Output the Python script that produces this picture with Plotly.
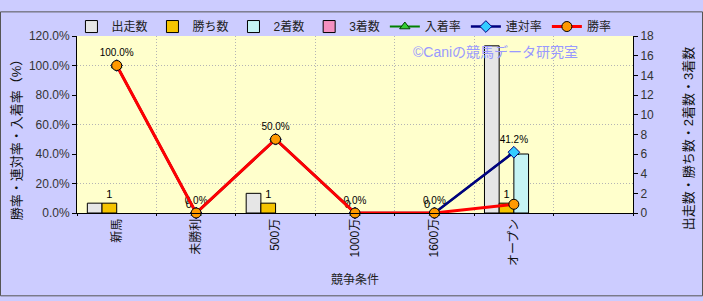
import plotly.graph_objects as go

categories = ["新馬", "未勝利", "500万", "1000万", "1600万", "オープン", " "]
starts = [1, 0, 2, 0, 0, 17, None]
wins = [1, 0, 1, 0, 0, 1, None]
seconds = [0, 0, 0, 0, 0, 6, None]
thirds = [0, 0, 0, 0, 0, 0, None]
place_rate = [100.0, 0.0, 50.0, 0.0, 0.0, 41.2, None]
rentai_rate = [100.0, 0.0, 50.0, 0.0, 0.0, 41.2, None]
win_rate = [100.0, 0.0, 50.0, 0.0, 0.0, 5.9, None]
rate_labels = ["100.0%", "0.0%", "50.0%", "0.0%", "0.0%", "41.2%", ""]
win_labels = ["1", "0", "1", "0", "0", "1", ""]

FONT = "Arial, 'Liberation Sans', 'Noto Sans CJK JP', sans-serif"


def nonzero(vals):
    # zero-height bars are not drawn at all in the reference
    return [v if v else None for v in vals]


bar_line = dict(color="black", width=1)
fig = go.Figure()
fig.add_trace(go.Bar(name="出走数", x=categories, y=nonzero(starts), yaxis="y",
                     marker=dict(color="#e6e6e6", line=bar_line)))
fig.add_trace(go.Bar(name="勝ち数", x=categories, y=wins, yaxis="y",
                     marker=dict(color="#f5c400",
                                 line=dict(color="black", width=[1 if v else 0 for v in wins])),
                     text=win_labels, textposition="outside", cliponaxis=False,
                     textfont=dict(size=11, color="black", family=FONT)))
fig.add_trace(go.Bar(name="2着数", x=categories, y=nonzero(seconds), yaxis="y",
                     marker=dict(color="#c6f4f4", line=bar_line)))
fig.add_trace(go.Bar(name="3着数", x=categories, y=nonzero(thirds), yaxis="y",
                     marker=dict(color="#f590c0", line=bar_line)))

fig.add_trace(go.Scatter(name="入着率", x=categories, y=place_rate, yaxis="y2",
                         mode="lines+markers", cliponaxis=False,
                         line=dict(color="#008000", width=2),
                         marker=dict(symbol="triangle-up", size=9, color="#33cc33",
                                     line=dict(color="#004000", width=1))))
fig.add_trace(go.Scatter(name="連対率", x=categories, y=rentai_rate, yaxis="y2",
                         mode="lines+markers+text", cliponaxis=False,
                         text=rate_labels, textposition="top center",
                         textfont=dict(size=10, color="black", family=FONT),
                         line=dict(color="#000080", width=2.5),
                         marker=dict(symbol="diamond", size=9, color="#33ccff",
                                     line=dict(color="#000080", width=1))))
fig.add_trace(go.Scatter(name="勝率", x=categories, y=win_rate, yaxis="y2",
                         mode="lines+markers", cliponaxis=False,
                         line=dict(color="#ff0000", width=3),
                         marker=dict(symbol="circle", size=10, color="#ff9900",
                                     line=dict(color="black", width=1))))

L, R, T, B = 77, 70, 26, 88
W, H = 703, 301
pw, ph = W - L - R, H - T - B
GRID = "#b4b4b4"


def px(x):
    return (x - L) / pw


def py(y):
    return (H - B - y) / ph


fig.update_layout(
    width=W, height=H,
    margin=dict(l=L, r=R, t=T, b=B),
    paper_bgcolor="#ccccff",
    plot_bgcolor="#ffffcc",
    font=dict(family=FONT, size=12, color="#333333"),
    barmode="group", bargap=0.26, bargroupgap=0,
    showlegend=True,
    legend=dict(orientation="h", x=-0.01, xanchor="left", y=1 + 10 / ph, yanchor="middle",
                bgcolor="rgba(0,0,0,0)", font=dict(size=12, color="#222222"),
                itemwidth=30, tracegroupgap=0, traceorder="normal"),
    xaxis=dict(type="category", categoryorder="array", categoryarray=categories,
               tickson="boundaries", showgrid=True, griddash="1px,2px", gridcolor=GRID,
               gridwidth=1, showline=True, linecolor="black", linewidth=1,
               ticks="outside", ticklen=2, tickcolor="black", tickangle=-90,
               tickfont=dict(size=12, color="#111111"),
               title=dict(text="競争条件", font=dict(size=12, color="#222222"), standoff=10),
               range=[-0.5, 6.5], fixedrange=True),
    yaxis=dict(side="right", range=[0, 18], dtick=2, tick0=0,
               showgrid=False, showline=True, linecolor="black", linewidth=1,
               ticks="outside", ticklen=4, tickcolor="black",
               tickfont=dict(size=12, color="#333333"),
               minor=dict(dtick=3, tick0=0, showgrid=True, griddash="1px,2px",
                          gridcolor=GRID, ticklen=0),
               zeroline=False),
    yaxis2=dict(overlaying="y", side="left", range=[0, 120], dtick=20,
                ticksuffix=".0%", showgrid=False, zeroline=False,
                showline=True, linecolor="black", linewidth=1,
                ticks="outside", ticklen=4, tickcolor="black",
                tickfont=dict(size=12, color="#333333")),
    annotations=[
        dict(text="©Caniの競馬データ研究室", xref="paper", yref="paper",
             x=px(495), y=py(43), xanchor="center", yanchor="middle", showarrow=False,
             font=dict(size=14, color="#9999ff", family=FONT)),
        dict(text="勝率・連対率・入着率（%）", xref="paper", yref="paper",
             x=px(16), y=py(132), xanchor="center", yanchor="middle", textangle=-90,
             showarrow=False, font=dict(size=13, color="#111111", family=FONT)),
        dict(text="出走数・勝ち数・2着数・3着数", xref="paper", yref="paper",
             x=px(688), y=py(135), xanchor="center", yanchor="middle", textangle=-90,
             showarrow=False, font=dict(size=13, color="#111111", family=FONT)),
    ],
    shapes=[dict(type="rect", xref="paper", yref="paper",
                 x0=-(L - 0.5) / pw, x1=1 + (R - 0.5) / pw,
                 y0=-(B - 0.5) / ph, y1=1 + (T - 0.5) / ph,
                 line=dict(color="#555555", width=1), fillcolor="rgba(0,0,0,0)",
                 layer="above")],
)

fig.write_html("out.html")
